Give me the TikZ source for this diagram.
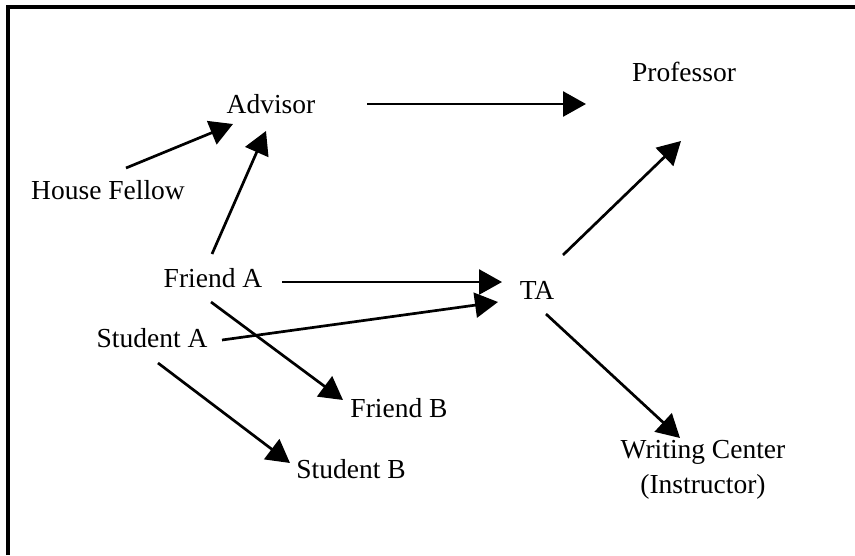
\documentclass[tikz,border=0pt]{standalone}
\usepackage{fontspec}
\setmainfont{Liberation Serif}
\usetikzlibrary{arrows.meta}
\begin{document}
\begin{tikzpicture}[x=1pt,y=-1pt,
  lbl/.style={inner sep=0pt,font=\fontsize{27.5}{35}\selectfont,align=center},
  arr/.style={line width=2.7pt,-{Triangle[length=23pt,width=25pt]}}]
\useasboundingbox (0,0) rectangle (855,555);
\draw[line width=4pt] (8,555) -- (8,7) -- (855,7);
\node[lbl] (Adv) at (271,104) {Advisor};
\node[lbl] (Prof) at (684,72) {Professor};
\node[lbl] (HF) at (108,190) {House Fellow};
\node[lbl] (FA) at (213,278) {Friend A};
\node[lbl] (TA) at (537,290) {TA};
\node[lbl] (SA) at (152,338) {Student A};
\node[lbl] (FB) at (399,408) {Friend B};
\node[lbl] (SB) at (351,469) {Student B};
\node[lbl] (WC) at (703,470) {Writing Center\\(Instructor)};
\draw[arr] ([shift={(96,0)}]Adv.center) -- ([shift={(-98,32)}]Prof.center);
\draw[arr] ([shift={(18,-22)}]HF.center) -- ([shift={(-38,20)}]Adv.center);
\draw[arr] ([shift={(-1,-24)}]FA.center) -- ([shift={(-5,27)}]Adv.center);
\draw[arr] ([shift={(69,4)}]FA.center) -- ([shift={(-35,-8)}]TA.center);
\draw[arr] ([shift={(70,2)}]SA.center) -- ([shift={(-39,12)}]TA.center);
\draw[arr] ([shift={(-2,24)}]FA.center) -- ([shift={(-56,-8)}]FB.center);
\draw[arr] ([shift={(6,25)}]SA.center) -- ([shift={(-61,-6)}]SB.center);
\draw[arr] ([shift={(26,-35)}]TA.center) -- ([shift={(-3,69)}]Prof.center);
\draw[arr] ([shift={(9,24)}]TA.center) -- ([shift={(-23,-32)}]WC.center);
\end{tikzpicture}
\end{document}
